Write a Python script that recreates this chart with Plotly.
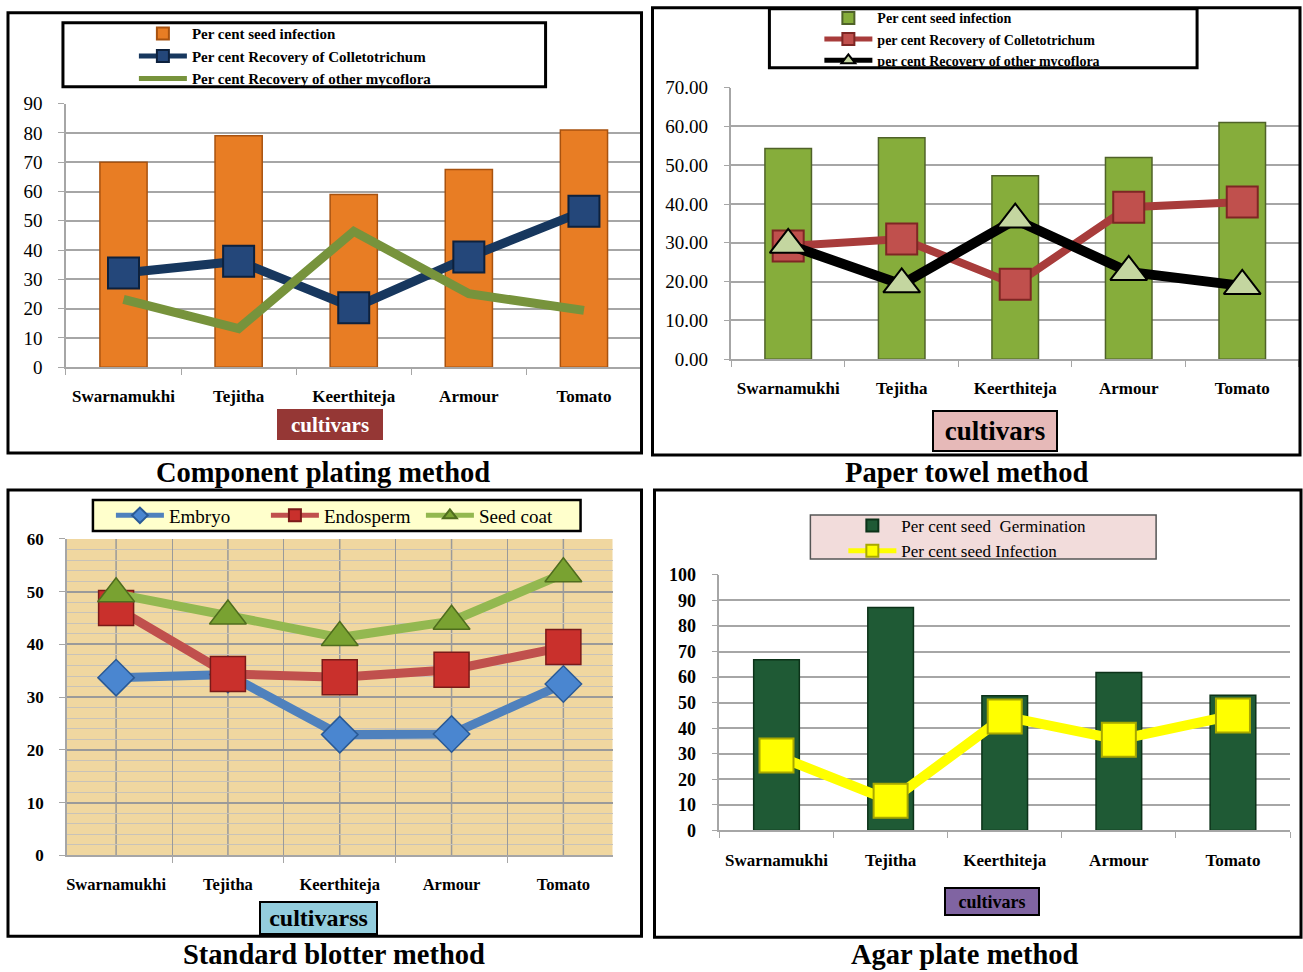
import plotly.graph_objects as go

W, H = 1303, 972
FONT = "Liberation Serif"
# observed vertical mapping of the renderer (rendered = YS * y + YO); positions below are
# given in target-picture pixels and converted back through this mapping
YS, YO = 0.98, 9.2

cultivars = ["Swarnamukhi", "Tejitha", "Keerthiteja", "Armour", "Tomato"]

# Component plating method
cp_seed_infection = [70, 79, 59, 67.5, 81]
cp_colletotrichum = [32.2, 36.2, 20.3, 37.6, 53.3]
cp_other_mycoflora = [23.2, 13.2, 46.4, 25.1, 19.4]

# Paper towel method
pt_seed_infection = [54.3, 57.1, 47.3, 52.0, 61.0]
pt_colletotrichum = [29.2, 31.0, 19.3, 39.2, 40.5]
pt_other_mycoflora = [29.5, 19.3, 36.0, 22.5, 18.9]

# Standard blotter method
sb_embryo = [33.7, 34.3, 22.9, 23.0, 32.5]
sb_endosperm = [46.9, 34.4, 33.8, 35.2, 39.5]
sb_seed_coat = [49.6, 45.4, 41.3, 44.4, 53.4]

# Agar plate method
ap_germination = [66.8, 87.2, 52.7, 61.8, 52.9]
ap_infection = [29.3, 11.6, 44.6, 35.5, 45.0]

panel_titles = ["Component plating method", "Paper towel method",
                "Standard blotter method", "Agar plate method"]


def px(x):
    return x / W


def py(y):
    return 1 - ((y - YO) / YS) / H


fig = go.Figure()

# ---------- Panel 1 ----------
fig.add_trace(go.Bar(x=cultivars, y=cp_seed_infection, name="Per cent seed infection",
                     width=0.41, marker=dict(color="#e87d24", line=dict(color="#a8520f", width=1.5)),
                     xaxis="x", yaxis="y", legend="legend"))
fig.add_trace(go.Scatter(x=cultivars, y=cp_colletotrichum, name="Per cent Recovery of Colletotrichum",
                         mode="lines+markers", line=dict(color="#17375e", width=9),
                         marker=dict(symbol="square", size=31, color="#24477a",
                                     line=dict(color="#0d213d", width=2)),
                         xaxis="x", yaxis="y", legend="legend"))
fig.add_trace(go.Scatter(x=cultivars, y=cp_other_mycoflora, name="Per cent Recovery of other mycoflora",
                         mode="lines", line=dict(color="#77933c", width=9),
                         xaxis="x", yaxis="y", legend="legend"))

# ---------- Panel 2 ----------
fig.add_trace(go.Bar(x=cultivars, y=pt_seed_infection, name="Per cent seed infection",
                     width=0.41, marker=dict(color="#86ad3b", line=dict(color="#4f6228", width=1.5)),
                     xaxis="x2", yaxis="y2", legend="legend2"))
fig.add_trace(go.Scatter(x=cultivars, y=pt_colletotrichum, name="per cent Recovery of Colletotrichum",
                         mode="lines+markers", line=dict(color="#a83c3b", width=8),
                         marker=dict(symbol="square", size=31, color="#c0504d",
                                     line=dict(color="#7e2624", width=2)),
                         xaxis="x2", yaxis="y2", legend="legend2"))
fig.add_trace(go.Scatter(x=cultivars, y=pt_other_mycoflora, name="per cent Recovery of other mycoflora",
                         mode="lines+markers", line=dict(color="#000000", width=10),
                         marker=dict(symbol="triangle-up", size=32, color="#c4d6a0",
                                     line=dict(color="#000000", width=2)),
                         xaxis="x2", yaxis="y2", legend="legend2"))

# ---------- Panel 3 ----------
fig.add_trace(go.Scatter(x=cultivars, y=sb_embryo, name="Embryo",
                         mode="lines+markers", line=dict(color="#4f81bd", width=9),
                         marker=dict(symbol="diamond", size=28, color="#4a86d0",
                                     line=dict(color="#2a5a96", width=1.5)),
                         xaxis="x3", yaxis="y3", legend="legend3"))
fig.add_trace(go.Scatter(x=cultivars, y=sb_endosperm, name="Endosperm",
                         mode="lines+markers", line=dict(color="#c0504d", width=9),
                         marker=dict(symbol="square", size=35, color="#c9302c",
                                     line=dict(color="#7a1a18", width=1.5)),
                         xaxis="x3", yaxis="y3", legend="legend3"))
fig.add_trace(go.Scatter(x=cultivars, y=sb_seed_coat, name="Seed coat",
                         mode="lines+markers", line=dict(color="#93b850", width=9),
                         marker=dict(symbol="triangle-up", size=32, color="#79a231",
                                     line=dict(color="#4f6d1e", width=1.5)),
                         xaxis="x3", yaxis="y3", legend="legend3"))

# ---------- Panel 4 ----------
fig.add_trace(go.Bar(x=cultivars, y=ap_germination, name="Per cent seed  Germination",
                     width=0.40, marker=dict(color="#1f5a35", line=dict(color="#0c3219", width=1.5)),
                     xaxis="x4", yaxis="y4", legend="legend4"))
fig.add_trace(go.Scatter(x=cultivars, y=ap_infection, name="Per cent seed Infection",
                         mode="lines+markers", line=dict(color="#ffff00", width=10),
                         marker=dict(symbol="square", size=34, color="#ffff00",
                                     line=dict(color="#a8a800", width=2)),
                         xaxis="x4", yaxis="y4", legend="legend4"))

grid = "#a6a6a6"


def xax(domain, anchor, size=17):
    return dict(domain=domain, anchor=anchor, type="category", showgrid=False,
                showline=True, linecolor=grid, linewidth=1.5, ticks="outside",
                tickson="boundaries", ticklen=6, tickcolor=grid, tickangle=0,
                tickfont=dict(family=FONT, size=size, color="#000", weight="bold"),
                ticklabelstandoff=13, fixedrange=True)


def yax(domain, anchor, rng, fmt=None, size=19, bold=False):
    d = dict(domain=domain, anchor=anchor, range=rng, dtick=10, showgrid=True,
             gridcolor=grid, gridwidth=1.5, showline=True, linecolor=grid, linewidth=1.5,
             ticks="outside", ticklen=6, tickcolor=grid, zeroline=False,
             tickfont=dict(family=FONT, size=size, color="#000", weight="bold" if bold else "normal"),
             ticklabelstandoff=12, fixedrange=True)
    if fmt:
        d["tickformat"] = fmt
    return d


layout = dict(
    width=W, height=H, margin=dict(l=0, r=0, t=0, b=0),
    paper_bgcolor="white", plot_bgcolor="white", showlegend=True,
    xaxis=xax([px(65), px(641)], "y"),
    yaxis=yax([py(367), py(103)], "x", [0, 90]),
    xaxis2=xax([px(731), px(1299)], "y2"),
    yaxis2=yax([py(359), py(87)], "x2", [0, 70], fmt=".2f"),
    xaxis3=xax([px(66), px(612)], "y3", size=16.5),
    yaxis3=yax([py(856), py(539)], "x3", [0, 60], size=17, bold=True),
    xaxis4=xax([px(719), px(1290)], "y4"),
    yaxis4=yax([py(831), py(575)], "x4", [0, 100], size=18, bold=True),
)
layout["xaxis3"]["showgrid"] = True
layout["xaxis3"]["gridcolor"] = "#9a9a9a"
layout["yaxis3"]["gridcolor"] = "#9a9a9a"
layout["yaxis3"]["minor"] = dict(dtick=2, showgrid=True, gridcolor="#c9c3b8", gridwidth=1)

lg_common = dict(bgcolor="rgba(0,0,0,0)", borderwidth=0, itemsizing="constant",
                 itemwidth=48, xanchor="left", yanchor="top", traceorder="normal",
                 itemclick=False, itemdoubleclick=False)
layout["legend"] = dict(lg_common, x=px(133), y=py(16.5),
                        font=dict(family=FONT, size=15, color="#000", weight="bold"))
layout["legend2"] = dict(lg_common, x=px(819), y=py(1.5),
                         font=dict(family=FONT, size=14, color="#000", weight="bold"))
layout["legend3"] = dict(lg_common, x=px(110), y=py(496.5), orientation="h", entrywidth=92,
                         font=dict(family=FONT, size=19, color="#000"))
layout["legend4"] = dict(lg_common, x=px(843), y=py(508),
                         font=dict(family=FONT, size=17, color="#000"))

shapes = []
# panel 3 parchment background & centre verticals
shapes.append(dict(type="rect", xref="x3 domain", yref="y3 domain", x0=0, x1=1, y0=0, y1=1,
                   fillcolor="#f0d7a0", line=dict(width=0), layer="below"))
for c in cultivars:
    shapes.append(dict(type="line", xref="x3", yref="y3 domain", x0=c, x1=c, y0=0, y1=1,
                       line=dict(color="#9a9a9a", width=1.5), layer="below"))
# panel frames
for (x0, y0, x1, y1) in [(7, 12, 641, 453), (652, 7, 1300, 455), (7, 490, 641, 937), (654, 490, 1301, 938)]:
    shapes.append(dict(type="rect", xref="paper", yref="paper", x0=px(x0), x1=px(x1),
                       y0=py(y1), y1=py(y0), line=dict(color="#000", width=3)))
# legend frames
shapes.append(dict(type="rect", xref="paper", yref="paper", x0=px(62), x1=px(545), y0=py(86), y1=py(22),
                   line=dict(color="#000", width=3), fillcolor="white"))
shapes.append(dict(type="rect", xref="paper", yref="paper", x0=px(769), x1=px(1197), y0=py(67), y1=py(8),
                   line=dict(color="#000", width=3), fillcolor="white"))
shapes.append(dict(type="rect", xref="paper", yref="paper", x0=px(92), x1=px(580), y0=py(531), y1=py(500),
                   line=dict(color="#000", width=2.5), fillcolor="#ffffcc"))
shapes.append(dict(type="rect", xref="paper", yref="paper", x0=px(810), x1=px(1156), y0=py(559), y1=py(515),
                   line=dict(color="#555", width=1.5), fillcolor="#f2dcdb"))
layout["shapes"] = shapes

ann = []
for t, (cx, cy) in zip(panel_titles, [(322, 472), (966, 472), (333, 955), (965, 955)]):
    ann.append(dict(text=t, x=px(cx), y=py(cy), xref="paper", yref="paper", showarrow=False,
                    xanchor="center", yanchor="middle",
                    font=dict(family=FONT, size=28.5, color="#000", weight="bold")))
# axis title boxes
for txt, cx, cy, w, h, bg, fc, fs, bw in [
    ("cultivars", 329, 424, 106, 31, "#953735", "#ffffff", 21, 0),
    ("cultivars", 995, 431, 122, 38, "#e6b9b8", "#000000", 27, 2),
    ("cultivarss", 318, 919, 115, 30, "#93cddd", "#000000", 24, 2),
    ("cultivars", 992, 902, 92, 25, "#8064a2", "#000000", 18, 2),
]:
    ann.append(dict(text=txt, x=px(cx), y=py(cy), xref="paper", yref="paper", showarrow=False,
                    xanchor="center", yanchor="middle", width=w, height=h, borderpad=0,
                    bgcolor=bg, bordercolor="#000", borderwidth=bw,
                    font=dict(family=FONT, size=fs, color=fc, weight="bold")))
layout["annotations"] = ann

fig.update_layout(**layout)
fig.write_html("out.html",
               post_script="document.body.style.margin='0';document.body.style.padding='0';")
